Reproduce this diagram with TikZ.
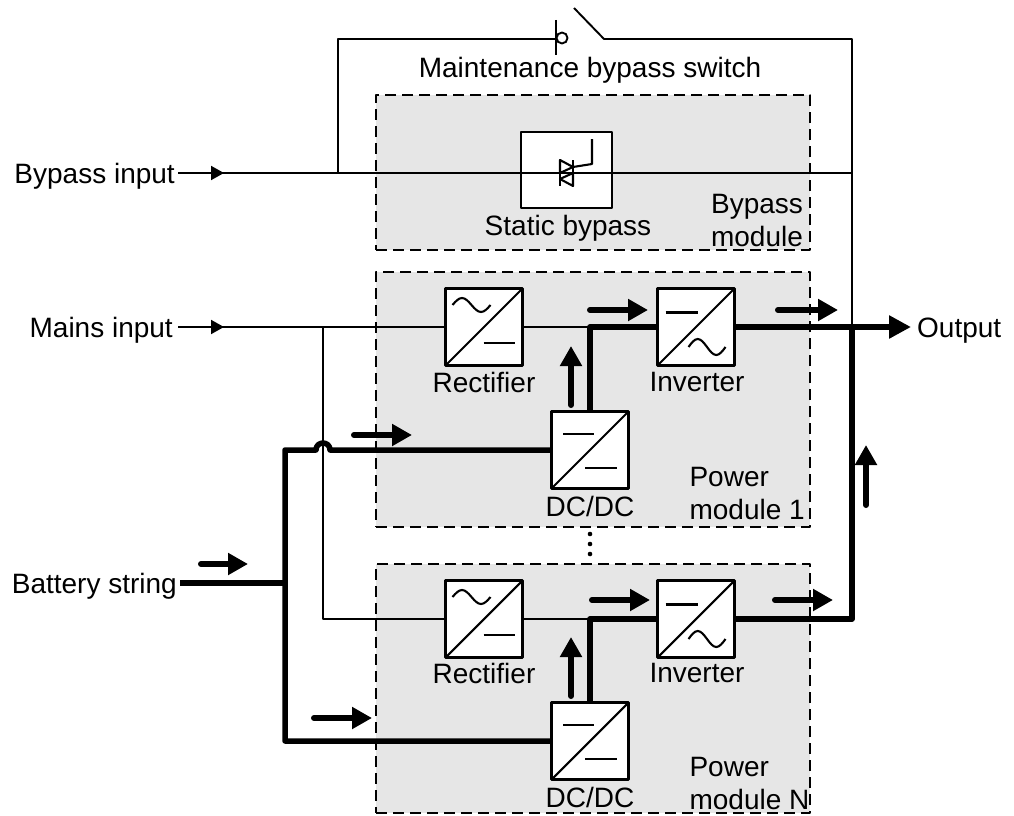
\documentclass[tikz,border=0pt]{standalone}
\usepackage{fontspec}
\setmainfont{Liberation Sans}
\usetikzlibrary{arrows.meta}
\definecolor{modfill}{HTML}{E6E6E6}
\begin{document}
\begin{tikzpicture}[x=1pt,y=-1pt,line join=round,
  every node/.style={font=\fontsize{28}{33}\selectfont},
  module/.style={draw,fill=modfill,line width=2.5pt,dash pattern=on 11pt off 6pt,inner sep=0pt},
  conv/.style={draw,fill=white,line width=2.6pt,minimum size=77pt,inner sep=0pt},
  lbl/.style={text height=20pt,text depth=0pt},
  thinw/.style={line width=1.9pt},
  thickw/.style={line width=5.5pt},
  symline/.style={line width=2.1pt},
  flow/.style={line width=6pt,line cap=round,-{Triangle[length=20pt,width=21pt]}},
  smallarr/.style={line width=1.9pt,-{Triangle[length=13pt,width=14pt]}},
  acdc/.pic={\draw[symline] (-38.5,38.5) -- (38.5,-38.5);
             \draw[symline] (-31.5,-22) sin (-22,-29) cos (-12.5,-22) sin (-3,-15) cos (6.5,-22);
             \draw[symline] (-0.5,16) -- (30.5,16);},
  dcac/.pic={\draw[symline] (-38.5,38.5) -- (38.5,-38.5);
             \draw[symline] (-30.5,-14.5) -- (1.5,-14.5);
             \draw[symline] (-7.5,20) sin (1.75,12) cos (11,20) sin (20.25,28) cos (29.5,20);},
  dcdc/.pic={\draw[symline] (-38.5,38.5) -- (38.5,-38.5);
             \draw[symline] (-27,-16) -- (4,-16);
             \draw[symline] (-5,18) -- (27,18);}
]
\useasboundingbox[fill=white] (0,0) rectangle (1014,816);

% module frames
\node[module,minimum width=434pt,minimum height=155pt] (bm) at (593,172.5) {};
\node[module,minimum width=434pt,minimum height=255pt] (pm1) at (593,399.5) {};
\node[module,minimum width=434pt,minimum height=249pt] (pmN) at (593,688.5) {};

% text labels
\node[lbl,anchor=east,inner xsep=3pt] (bin) at (178,173) {Bypass input};
\node[lbl,anchor=east,inner xsep=5pt] (min) at (178,327) {Mains input};
\node[lbl,anchor=east,inner xsep=3pt] (bat) at (180,583) {Battery string};
\node (msw) at (590,70) {Maintenance bypass switch};
\node[lbl,anchor=west,inner xsep=6pt] (out) at (911,327) {Output};
\node[align=left] (bml) at (757,221) {Bypass\\module};
\node[align=left,anchor=west] (pm1l) at (686,493) {Power\\module 1};
\node[align=left,anchor=west] (pmNl) at (686,783) {Power\\module N};

% static bypass
\node[conv,minimum width=91pt,minimum height=76pt] (sb) at (566.5,170) {};
\node (sbl) at (568,228) {Static bypass};
\coordinate (sj) at (338,173);
\coordinate (bj) at (852,173);
\draw[thinw] (bin.east) -- (bj);
\draw[smallarr] (bin.east) -- (224,173);
\draw[symline] (560,160) -- (560,186) (573,160) -- (573,186);
\draw[symline] (560,160) -- (573,167) -- (560,173) -- cycle;
\draw[symline] (573,173) -- (560,179) -- (573,186) -- cycle;
\draw[symline] (573,167) -- (592,164) -- (592,139);

% maintenance bypass switch
\coordinate (cont) at (556,39);
\coordinate (tr) at (852,39);
\coordinate (oj) at (852,327);
\draw[thinw] (sj) -- (sj |- cont) -- (cont);
\draw[thinw] (556,20) -- (556,55);
\draw[thinw] (562,38) circle[radius=5.5pt];
\draw[thinw] (574,8) -- (604,39) -- (tr) -- (oj);

% converters module 1
\node[conv] (r1) at (484,327) {};
\node[conv] (i1) at (696,327) {};
\node[conv] (d1) at (590,450) {};
\pic at (r1.center) {acdc};
\pic at (i1.center) {dcac};
\pic at (d1.center) {dcdc};
\node (r1l) at (484,382) {Rectifier};
\node (i1l) at (697,382) {Inverter};
\node (d1l) at (590,506) {DC/DC};

% converters module N
\node[conv] (rN) at (484,619) {};
\node[conv] (iN) at (696,619) {};
\node[conv] (dN) at (590,741) {};
\pic at (rN.center) {acdc};
\pic at (iN.center) {dcac};
\pic at (dN.center) {dcdc};
\node (rNl) at (484,673) {Rectifier};
\node (iNl) at (697,673) {Inverter};
\node (dNl) at (590,797) {DC/DC};

% mains input
\coordinate (mj) at (323,327);
\draw[thinw] (min.east) -- (r1.west);
\draw[smallarr] (min.east) -- (224,327);
\draw[thinw] (mj) -- (mj |- rN.west) -- (rN.west);
\draw[thinw] (r1.east) -- (590,327);
\draw[thinw] (rN.east) -- (590,619);

% DC bus, module 1 and N
\draw[thickw] (d1.north) -- (d1.north |- i1.west) -- (i1.west);
\draw[thickw] (dN.north) -- (dN.north |- iN.west) -- (iN.west);

% output
\draw[thickw,-{Triangle[length=22pt,width=22pt]}] (i1.east) -- (out.west);
\draw[thickw] (iN.east) -- (oj |- iN.east) -- (oj);

% battery
\draw[thickw] (bat.east) -- (285,583);
\draw[thickw] (dN.west) -- (285,741) -- (285,450) -- (316,450)
   .. controls (316,440.7) and (330,440.7) .. (330,450) -- (d1.west);

% dots
\fill (590,534) circle[radius=2.3pt];
\fill (590,544) circle[radius=2.3pt];
\fill (590,554) circle[radius=2.3pt];

% flow arrows
\draw[flow] (590,310) -- (648,310);
\draw[flow] (571,405) -- (571,346);
\draw[flow] (778,310) -- (838,310);
\draw[flow] (866,505) -- (866,445);
\draw[flow] (354,435) -- (412,435);
\draw[flow] (201,564) -- (248,564);
\draw[flow] (592,600) -- (650,600);
\draw[flow] (775,600) -- (833,600);
\draw[flow] (571,696) -- (571,637);
\draw[flow] (314,718) -- (372,718);
\end{tikzpicture}
\end{document}
